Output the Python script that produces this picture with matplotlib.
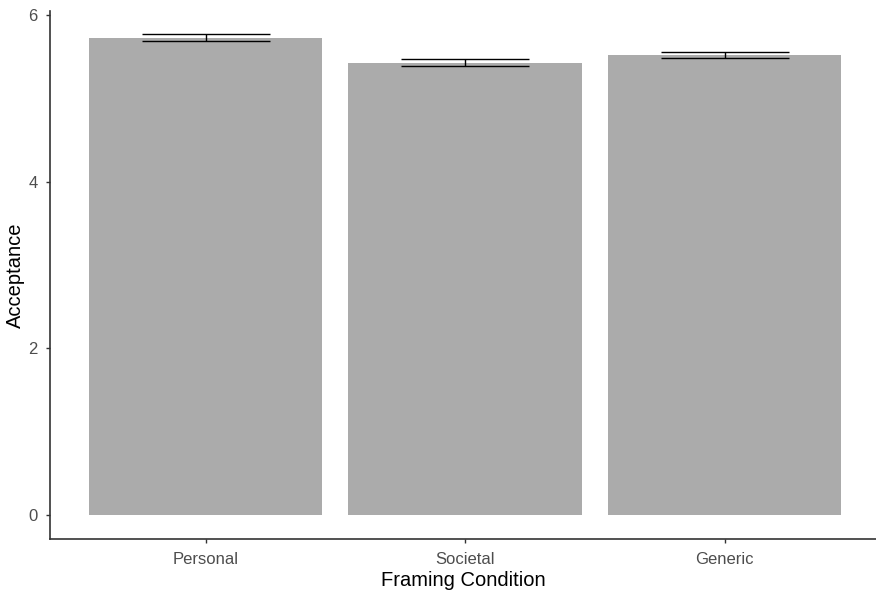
import matplotlib.pyplot as plt
import numpy as np

conditions = ["Personal", "Societal", "Generic"]
acceptance = [5.73, 5.43, 5.52]
acceptance_se = [0.04, 0.04, 0.04]

plt.rcParams["font.family"] = ["Liberation Sans", "DejaVu Sans"]

fig = plt.figure(figsize=(8.76, 5.94), dpi=100)
ax = fig.add_axes([50 / 876, 55 / 594, 826 / 876, 528 / 594])

x = np.arange(1, len(conditions) + 1)
ax.bar(x, acceptance, width=0.9, color="#ababab", zorder=1)
ax.errorbar(
    x,
    acceptance,
    yerr=acceptance_se,
    fmt="none",
    ecolor="black",
    elinewidth=1.0,
    capsize=46,
    capthick=1.0,
    zorder=2,
)

ax.set_xlim(0.4, 0.4 + 826 / 259.5)
ax.set_ylim(-0.29, 6.05)
ax.set_xticks(x)
ax.set_xticklabels(conditions)
ax.set_yticks([0, 2, 4, 6])

for side in ["top", "right"]:
    ax.spines[side].set_visible(False)
for side in ["left", "bottom"]:
    ax.spines[side].set_color("#333333")
    ax.spines[side].set_linewidth(1.2)

ax.tick_params(axis="both", colors="#333333", labelcolor="#4d4d4d",
               labelsize=12, length=3, width=1, pad=6)
ax.set_xlabel("Framing Condition", fontsize=14.5, labelpad=3)
ax.set_ylabel("Acceptance", fontsize=14.5, labelpad=2)

fig.savefig("out.png", dpi=100)
